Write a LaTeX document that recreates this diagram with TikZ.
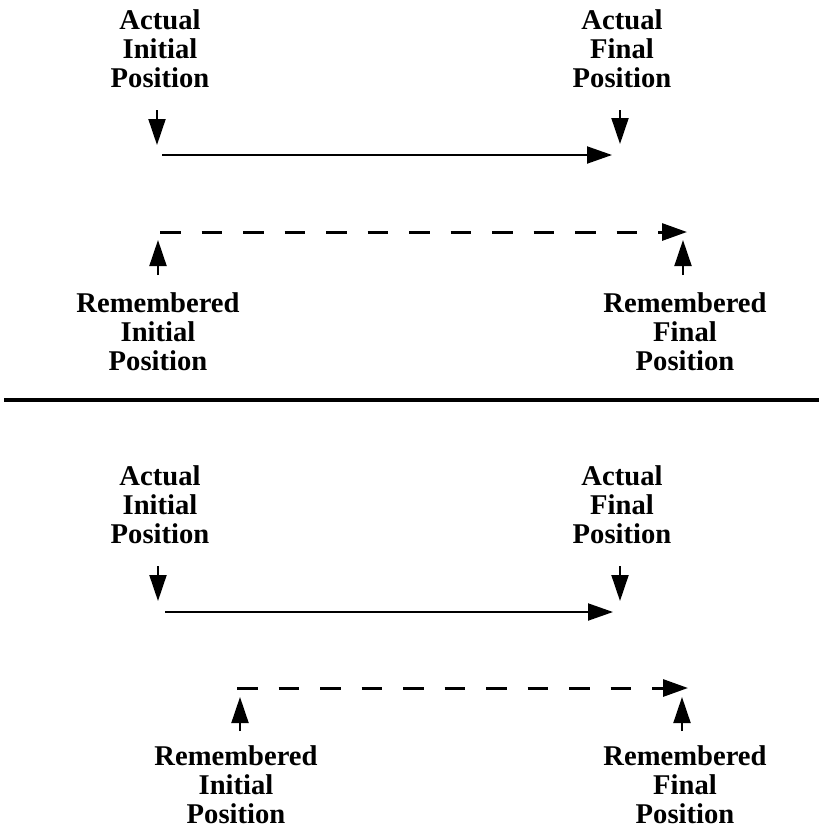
\documentclass[tikz,border=0pt]{standalone}
\usepackage{fontspec}
\setmainfont{Liberation Serif}
\usetikzlibrary{arrows.meta}
\begin{document}
\begin{tikzpicture}[x=1pt,y=-1pt,
  lbl/.style={anchor=north,inner sep=0pt,align=center,font=\fontsize{28.6}{29.4}\selectfont\bfseries},
  pointer/.style={line width=2pt,-{Triangle[length=26pt,width=17pt]}},
  actual/.style={line width=2pt,-{Triangle[length=25pt,width=17pt]}},
  remembered/.style={line width=3pt,dash pattern=on 20.5pt off 21pt,-{Triangle[length=25pt,width=17pt]}}]
\useasboundingbox (0,0) rectangle (819,831);
% ---------- top panel ----------
\node[lbl] (ai1) at (160,9) {Actual\\Initial\\Position};
\node[lbl] (af1) at (622,9) {Actual\\Final\\Position};
\node[lbl] (ri1) at (158,292) {Remembered\\Initial\\Position};
\node[lbl] (rf1) at (685,292) {Remembered\\Final\\Position};
\coordinate (aiT1) at (157,110); \coordinate (aiB1) at (157,145);
\coordinate (afT1) at (620,110); \coordinate (afB1) at (620,144);
\coordinate (s1a) at (162,155); \coordinate (s1b) at (612,155);
\coordinate (d1a) at (160,232); \coordinate (d1b) at (687,232);
\coordinate (riB1) at (158,275); \coordinate (riT1) at (158,240);
\coordinate (rfB1) at (683,275); \coordinate (rfT1) at (683,240);
\draw[pointer] (aiT1) -- (aiB1);
\draw[pointer] (afT1) -- (afB1);
\draw[actual] (s1a) -- (s1b);
\draw[remembered] (d1a) -- (d1b);
\draw[pointer] (riB1) -- (riT1);
\draw[pointer] (rfB1) -- (rfT1);
% ---------- divider ----------
\coordinate (divL) at (4,400); \coordinate (divR) at (819,400);
\draw[line width=4pt] (divL) -- (divR);
% ---------- bottom panel ----------
\node[lbl] (ai2) at (160,465) {Actual\\Initial\\Position};
\node[lbl] (af2) at (622,465) {Actual\\Final\\Position};
\node[lbl] (ri2) at (236,745) {Remembered\\Initial\\Position};
\node[lbl] (rf2) at (685,745) {Remembered\\Final\\Position};
\coordinate (aiT2) at (158,566); \coordinate (aiB2) at (158,601);
\coordinate (afT2) at (620,566); \coordinate (afB2) at (620,601);
\coordinate (s2a) at (165,612); \coordinate (s2b) at (613,612);
\coordinate (d2a) at (237,688); \coordinate (d2b) at (688,688);
\coordinate (riB2) at (240,731); \coordinate (riT2) at (240,697);
\coordinate (rfB2) at (682,731); \coordinate (rfT2) at (682,697);
\draw[pointer] (aiT2) -- (aiB2);
\draw[pointer] (afT2) -- (afB2);
\draw[actual] (s2a) -- (s2b);
\draw[remembered] (d2a) -- (d2b);
\draw[pointer] (riB2) -- (riT2);
\draw[pointer] (rfB2) -- (rfT2);
\end{tikzpicture}
\end{document}
